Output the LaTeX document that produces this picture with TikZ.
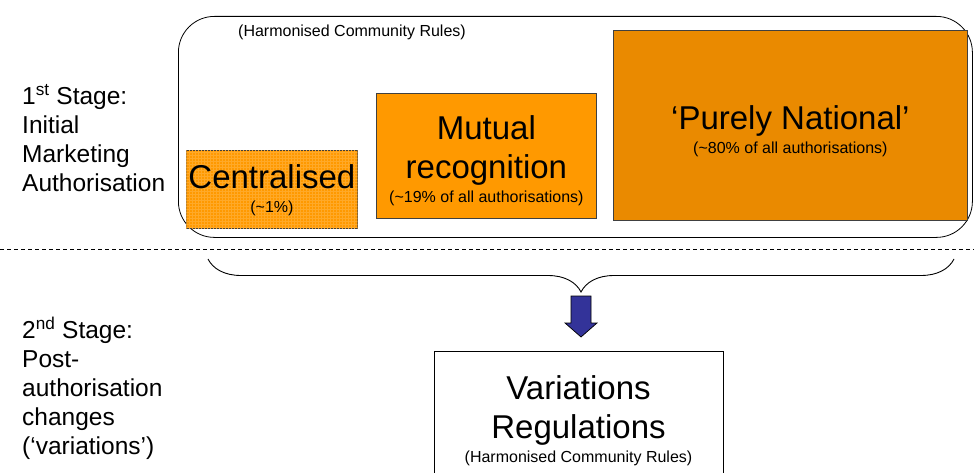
\documentclass[tikz,border=0pt]{standalone}
\usepackage{fontspec}
\setmainfont{Liberation Sans}
\usepackage{tikz}
\usetikzlibrary{positioning, calc, patterns, decorations.pathreplacing}
\definecolor{boxorange}{HTML}{FF9900}
\definecolor{darkorange}{HTML}{EA8A00}
\definecolor{gridorange}{HTML}{FFA928}
\definecolor{arrowblue}{HTML}{333399}
\newcommand{\subsize}{\fontsize{16}{19}\selectfont}
\tikzset{orangebox/.style={draw=black!75, line width=0.8pt, fill=boxorange, inner sep=0pt, anchor=north west}}
\tikzset{titletext/.style={font=\fontsize{33}{39}\selectfont, align=center, inner sep=0pt}}
\tikzset{stagetext/.style={font=\fontsize{24.5}{29}\selectfont, align=left, inner sep=0pt, anchor=north west}}

\begin{document}
\begin{tikzpicture}[x=1pt, y=-1pt]
\useasboundingbox (0,0) rectangle (974,473);

% first stage
\node[draw, line width=0.8pt, rounded corners=36pt, minimum width=794pt, minimum height=221pt, anchor=north west] (frame) at (178,16) {};
\node[font=\subsize, inner sep=0pt, anchor=north west] (rules) at (238,25) {(Harmonised Community Rules)};
\node[orangebox, postaction={pattern=grid, pattern color=gridorange}, minimum width=171pt, minimum height=78pt] (central) at (186,150) {};
\node[orangebox, minimum width=220pt, minimum height=125pt] (mutual) at (376,93) {};
\node[orangebox, fill=darkorange, minimum width=354pt, minimum height=190pt] (national) at (613,30) {};
\node[titletext] (centraltext) at ([yshift=-1pt]central.center) {Centralised\\[-15pt]{\subsize(\textasciitilde1\%)}};
\node[titletext] (mutualtext) at ([yshift=-4.5pt]mutual.center) {Mutual\\recognition\\[-15pt]{\subsize(\textasciitilde19\% of all authorisations)}};
\node[titletext] (nationaltext) at ([yshift=-6pt]national.center) {`Purely National'\\[-15pt]{\subsize(\textasciitilde80\% of all authorisations)}};
\node[stagetext] (stage1) at (22,84) {1\textsuperscript{st} Stage:\\Initial\\Marketing\\Authorisation};

% divider
\coordinate (dl) at (0,249);
\coordinate (dr) at (974,249);
\draw[dash pattern=on 4pt off 3pt, line width=0.8pt] (dl) -- (dr);

% brace and arrow
\coordinate (bl) at (208,259);
\coordinate (br) at (954,259);
\draw[decorate, decoration={brace, amplitude=33pt}, line width=0.9pt] (br) -- (bl);
\coordinate (atop) at (581,296);
\draw[fill=arrowblue, line width=0.7pt] (atop) ++(-10,0) -- ++(20,0) -- ++(0,27) -- ++(6,0) -- ++(-16,14) -- ++(-16,-14) -- ++(6,0) -- cycle;

% second stage
\node[draw, line width=0.8pt, minimum width=289pt, minimum height=138pt, anchor=north] (variations) at (578.5,351) {};
\node[titletext] (variationstext) at (variations.center) {Variations\\Regulations\\[-15pt]{\subsize(Harmonised Community Rules)}};
\node[stagetext] (stage2) at (22,317) {2\textsuperscript{nd} Stage:\\Post-\\authorisation\\changes\\(`variations')};
\end{tikzpicture}
\end{document}
